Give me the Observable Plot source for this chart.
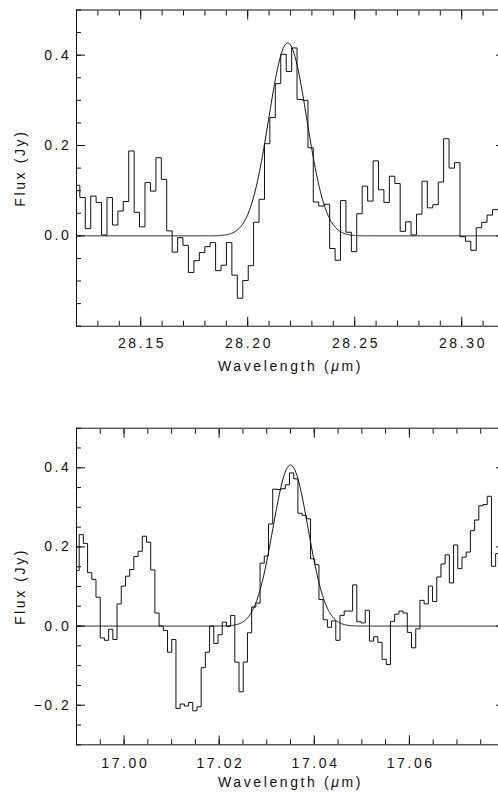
<!DOCTYPE html>
<html><head><meta charset="utf-8">
<script src="https://cdn.jsdelivr.net/npm/d3@7"></script>
<script src="https://cdn.jsdelivr.net/npm/@observablehq/plot@0.6"></script>
<style>
html,body{margin:0;padding:0;overflow:hidden;background:#fff;width:498px;height:795px;}
.panel{position:absolute;left:0;width:560px;}
#top{top:0px}
#bottom{top:380px}
.panel svg{max-width:none !important;height:auto;}
svg text{letter-spacing:2.6px}
</style></head><body>
<div id="top" class="panel"></div><div id="bottom" class="panel"></div>
<script>
// ---- Top panel: 28.22 micron line ----
const topWavelength = [28.1203,28.1228,28.1254,28.1279,28.1304,28.1330,28.1355,28.1381,28.1406,28.1431,
 28.1457,28.1482,28.1507,28.1533,28.1558,28.1584,28.1609,28.1634,28.1660,28.1685,
 28.1710,28.1736,28.1761,28.1787,28.1812,28.1837,28.1863,28.1888,28.1913,28.1939,
 28.1964,28.1990,28.2015,28.2040,28.2066,28.2091,28.2116,28.2142,28.2167,28.2193,
 28.2218,28.2243,28.2269,28.2294,28.2319,28.2345,28.2370,28.2396,28.2421,28.2446,
 28.2472,28.2497,28.2522,28.2548,28.2573,28.2599,28.2624,28.2649,28.2675,28.2700,
 28.2725,28.2751,28.2776,28.2802,28.2827,28.2852,28.2878,28.2903,28.2928,28.2954,
 28.2979,28.3005,28.3030,28.3055,28.3081,28.3106,28.3131,28.3157,28.3182];
const topFlux = [0.112,0.085,0.016,0.088,0.074,0.002,0.085,0.024,0.055,0.076,
 0.188,0.052,0.020,0.118,0.099,0.173,0.125,0.011,-0.036,-0.004,
 -0.021,-0.081,-0.055,-0.037,-0.024,-0.015,-0.077,-0.065,-0.015,-0.087,
 -0.138,-0.099,-0.066,0.030,0.081,0.204,0.262,0.337,0.402,0.364,
 0.416,0.302,0.300,0.195,0.075,0.066,0.070,-0.028,-0.054,0.078,
 0.008,-0.035,0.049,0.110,0.077,0.166,0.102,0.074,0.132,0.116,
 0.010,0.031,0.002,0.048,0.121,0.062,0.069,0.119,0.215,0.150,
 0.162,-0.002,-0.012,-0.032,0.018,0.030,0.046,0.058,0.060];
const topFit = {amplitude: 0.427, center: 28.2187, sigma: 0.0089};
const topXDomain = [28.12, 28.32];
const topYDomain = [-0.2, 0.5];
const topXTicks = [28.15, 28.20, 28.25, 28.30];
const topYTicks = [0.0, 0.2, 0.4];

// ---- Bottom panel: 17.03 micron line ----
const bottomWavelength = [16.99012,16.99100,16.99189,16.99277,16.99366,16.99454,16.99543,16.99631,16.99720,16.99808,
 16.99897,16.99985,17.00074,17.00162,17.00250,17.00339,17.00427,17.00516,17.00604,17.00693,
 17.00781,17.00870,17.00958,17.01047,17.01135,17.01224,17.01312,17.01400,17.01489,17.01577,
 17.01666,17.01754,17.01843,17.01931,17.02020,17.02108,17.02197,17.02285,17.02373,17.02462,
 17.02550,17.02639,17.02727,17.02816,17.02904,17.02993,17.03081,17.03170,17.03258,17.03347,
 17.03435,17.03523,17.03612,17.03700,17.03789,17.03877,17.03966,17.04054,17.04143,17.04231,
 17.04320,17.04408,17.04497,17.04585,17.04673,17.04762,17.04850,17.04939,17.05027,17.05116,
 17.05204,17.05293,17.05381,17.05470,17.05558,17.05646,17.05735,17.05823,17.05912,17.06000,
 17.06089,17.06177,17.06266,17.06354,17.06443,17.06531,17.06620,17.06708,17.06796,17.06885,
 17.06973,17.07062,17.07150,17.07239,17.07327,17.07416,17.07504,17.07593,17.07681,17.07770,
 17.07858,17.07946];
const bottomFlux = [0.140,0.231,0.209,0.135,0.118,0.073,-0.030,-0.036,-0.008,-0.034,
 0.056,0.101,0.126,0.143,0.176,0.189,0.227,0.212,0.142,0.033,
 0.000,-0.011,-0.066,-0.034,-0.208,-0.197,-0.202,-0.193,-0.214,-0.204,
 -0.105,-0.066,0.000,-0.044,-0.022,0.010,-0.001,0.027,-0.091,-0.166,
 -0.091,-0.017,0.048,0.058,0.159,0.177,0.258,0.346,0.345,0.347,
 0.357,0.387,0.372,0.285,0.280,0.271,0.170,0.155,0.067,0.016,
 -0.003,0.013,-0.036,0.027,0.038,0.038,0.104,0.011,0.008,0.040,
 -0.038,-0.027,-0.041,-0.084,-0.097,0.012,0.030,0.038,0.033,-0.016,
 -0.055,-0.007,0.065,0.056,0.101,0.062,0.124,0.157,0.180,0.109,
 0.205,0.145,0.174,0.187,0.241,0.268,0.304,0.307,0.328,0.151,
 0.183,0.170];
const bottomFit = {amplitude: 0.407, center: 17.0350, sigma: 0.0037};
const bottomXDomain = [16.99, 17.08];
const bottomYDomain = [-0.3, 0.5];
const bottomXTicks = [17.00, 17.02, 17.04, 17.06];
const bottomYTicks = [-0.2, 0.0, 0.2, 0.4];

const xLabel = "Wavelength (μm)";
const yLabel = "Flux (Jy)";
const ink = "#111";

function panel(o) {
  const data = o.wl.map((x, i) => ({x, y: o.flux[i]}));
  const n = 800, [x0, x1] = o.xDomain;
  const fitData = d3.range(n + 1).map(i => {
    const x = x0 + (x1 - x0) * i / n;
    return {x, y: o.fit.amplitude * Math.exp(-0.5 * ((x - o.fit.center) / o.fit.sigma) ** 2)};
  });
  const xMinor = d3.range(Math.round(x0 / o.xMinorStep), Math.round(x1 / o.xMinorStep) + 1).map(k => k * o.xMinorStep);
  const yMinor = d3.range(Math.round(o.yDomain[0] / 0.05), Math.round(o.yDomain[1] / 0.05) + 1).map(k => k * 0.05);
  const blank = () => "";
  return Plot.plot({
    width: 560, height: o.height,
    marginLeft: 76, marginRight: 56, marginTop: o.marginTop, marginBottom: o.marginBottom,
    style: {fontFamily: "'Liberation Sans', Arial, sans-serif", fontSize: "14px", color: ink, background: "#fff", overflow: "visible", maxWidth: "none"},
    x: {domain: o.xDomain},
    y: {domain: o.yDomain},
    marks: [
      Plot.line(fitData, {x: "x", y: "y", stroke: ink, strokeWidth: 1, clip: true}),
      Plot.line(data, {x: "x", y: "y", curve: "step", stroke: ink, strokeWidth: 1, clip: true}),
      Plot.frame({stroke: ink, strokeWidth: 1}),
      Plot.axisX({ticks: xMinor, anchor: "bottom", tickSize: -5, tickFormat: blank, label: null}),
      Plot.axisX({ticks: xMinor, anchor: "top", tickSize: -5, tickFormat: blank, label: null}),
      Plot.axisX({ticks: o.xTicks, anchor: "top", tickSize: -9, tickFormat: blank, label: null}),
      Plot.axisX({ticks: o.xTicks, anchor: "bottom", tickSize: -9, tickFormat: blank, label: null}),
      Plot.axisX({ticks: o.xTicks, anchor: "bottom", tickSize: 0, tickPadding: o.xTickPadding, tickFormat: d3.format(".2f"),
        label: xLabel, labelArrow: "none", labelAnchor: "center", labelOffset: o.xLabelOffset, dx: 1.3}),
      Plot.axisY({ticks: yMinor, anchor: "left", tickSize: -5, tickFormat: blank, label: null}),
      Plot.axisY({ticks: yMinor, anchor: "right", tickSize: -5, tickFormat: blank, label: null}),
      Plot.axisY({ticks: o.yTicks, anchor: "right", tickSize: -9, tickFormat: blank, label: null}),
      Plot.axisY({ticks: o.yTicks, anchor: "left", tickSize: -9, tickFormat: blank, label: null}),
      Plot.axisY({ticks: o.yTicks, anchor: "left", tickSize: 0, tickPadding: 5, tickFormat: d3.format(".1f"),
        label: yLabel, labelArrow: "none", labelAnchor: "center", labelOffset: 61})
    ]
  });
}

function italicMu(svg) {
  svg.querySelectorAll("text").forEach(t => {
    if (t.textContent.trim() === xLabel && t.children.length === 0) {
      t.textContent = "";
      const ns = "http://www.w3.org/2000/svg";
      const a = document.createElementNS(ns, "tspan"); a.textContent = "Wavelength (";
      const b = document.createElementNS(ns, "tspan"); b.textContent = "μ"; b.setAttribute("font-style", "italic");
      const c = document.createElementNS(ns, "tspan"); c.textContent = "m)";
      t.append(a, b, c);
    }
  });
  return svg;
}

document.getElementById("top").append(italicMu(panel({
  wl: topWavelength, flux: topFlux, fit: topFit,
  xDomain: topXDomain, yDomain: topYDomain, xTicks: topXTicks, yTicks: topYTicks, xMinorStep: 0.01,
  height: 380, marginTop: 9.5, marginBottom: 54.3, xTickPadding: 12, xLabelOffset: 45
})));
document.getElementById("bottom").append(italicMu(panel({
  wl: bottomWavelength, flux: bottomFlux, fit: bottomFit,
  xDomain: bottomXDomain, yDomain: bottomYDomain, xTicks: bottomXTicks, yTicks: bottomYTicks, xMinorStep: 0.005,
  height: 415, marginTop: 47.7, marginBottom: 50.7, xTickPadding: 13, xLabelOffset: 42
})));
</script>
</body></html>
